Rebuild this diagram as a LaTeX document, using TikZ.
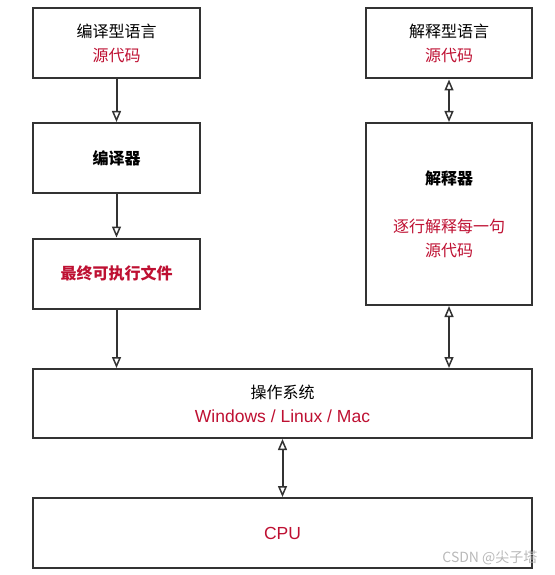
\documentclass[tikz,border=0pt]{standalone}
\usepackage{fontspec}
\setmainfont{Liberation Sans}
\newfontfamily\cjk{Noto Sans CJK SC}
\usepackage{xcolor}
\usetikzlibrary{arrows.meta,positioning}
\definecolor{srcred}{RGB}{190,16,50}
\definecolor{edgegray}{RGB}{51,51,51}
\tikzset{
  box/.style={draw=edgegray, line width=2pt, minimum width=167pt, minimum height=70pt,
    align=center, font=\fontsize{16}{24}\selectfont\cjk, inner sep=0pt},
  wide/.style={box, minimum width=499pt},
  flow/.style={-{Triangle[open,length=11pt,width=9pt,line width=1.5pt]}, line width=2pt, draw=edgegray},
  both/.style={{Triangle[open,length=11pt,width=9pt,line width=1.5pt]}-{Triangle[open,length=11pt,width=9pt,line width=1.5pt]}, line width=2pt, draw=edgegray}
}
\newcommand{\red}[1]{\textcolor{srcred}{#1}}
\newcommand{\latin}[1]{{\fontsize{17.5}{24}\selectfont\rmfamily #1}}
\begin{document}
\begin{tikzpicture}[x=1pt,y=-1pt]
\useasboundingbox (0,0) rectangle (554,575);

% compiled side
\node[box] at (116.5,43.5) (srcA) {编译型语言\\\red{源代码}};
\node[box] at (116.5,158) (compiler) {\bfseries 编译器};
\node[box] at (116.5,273.5) (exe) {\bfseries\red{最终可执行文件}};

% interpreted side
\node[box, minimum width=166pt] at (449,43.5) (srcB) {解释型语言\\\red{源代码}};
\node[box, minimum width=166pt, minimum height=182pt] at (449,214) (interp)
  {\bfseries 解释器\\[24pt]\red{逐行解释每一句}\\\red{源代码}};

\node[wide, minimum height=69pt] at (282.5,403.5) (os)
  {操作系统\\\red{\latin{Windows / Linux / Mac}}};
\node[wide] at (282.5,533) (cpu) {\red{\latin{CPU}}};

\node[text=gray!55, font=\fontsize{14}{14}\selectfont\cjk, anchor=east] at (541,558) (mark) {CSDN @尖子塔};

\draw[flow] (srcA) -- (compiler);
\draw[flow] (compiler) -- (exe);
\draw[flow] (exe) -- (exe |- os.north);

\draw[both] (srcB) -- (interp);
\draw[both] (interp) -- (interp |- os.north);
\draw[both] (os) -- (cpu);

\end{tikzpicture}
\end{document}
